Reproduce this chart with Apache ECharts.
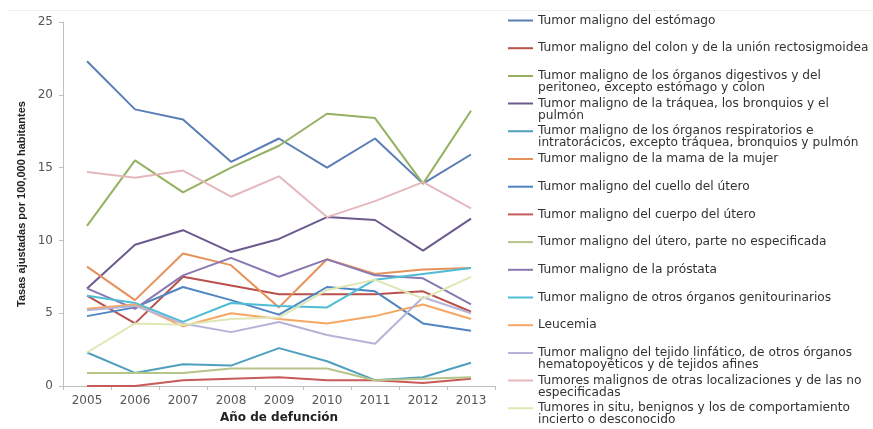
<!DOCTYPE html>
<html><head><meta charset="utf-8">
<script src="https://cdn.jsdelivr.net/npm/echarts@6/dist/echarts.min.js"></script>
<style>html,body{margin:0;padding:0;background:#fff}#c{width:873px;height:429px}</style>
</head><body><div id="c"></div>
<script>
// ---- data ----
const years = ['2005','2006','2007','2008','2009','2010','2011','2012','2013'];
const seriesNames = [
  'Tumor maligno del estómago',
  'Tumor maligno del colon y de la unión rectosigmoidea',
  'Tumor maligno de los órganos digestivos y del\nperitoneo, excepto estómago y colon',
  'Tumor maligno de la tráquea, los bronquios y el\npulmón',
  'Tumor maligno de los órganos respiratorios e\nintratorácicos, excepto tráquea, bronquios y pulmón',
  'Tumor maligno de la mama de la mujer',
  'Tumor maligno del cuello del útero',
  'Tumor maligno del cuerpo del útero',
  'Tumor maligno del útero, parte no especificada',
  'Tumor maligno de la próstata',
  'Tumor maligno de otros órganos genitourinarios',
  'Leucemia',
  'Tumor maligno del tejido linfático, de otros órganos\nhematopoyéticos y de tejidos afines',
  'Tumores malignos de otras localizaciones y de las no\nespecificadas',
  'Tumores in situ, benignos y los de comportamiento\nincierto o desconocido'
];
const estomago      = [22.3, 19.0, 18.3, 15.4, 17.0, 15.0, 17.0, 13.9, 15.9];
const colon         = [6.2, 4.3, 7.5, 6.9, 6.3, 6.3, 6.3, 6.5, 5.1];
const digestivos    = [11.0, 15.5, 13.3, 15.0, 16.5, 18.7, 18.4, 13.9, 18.9];
const traquea       = [6.7, 9.7, 10.7, 9.2, 10.1, 11.6, 11.4, 9.3, 11.5];
const respiratorios = [2.3, 0.9, 1.5, 1.4, 2.6, 1.7, 0.4, 0.6, 1.6];
const mama          = [8.2, 5.9, 9.1, 8.3, 5.4, 8.7, 7.7, 8.0, 8.1];
const cuello        = [4.8, 5.4, 6.8, 5.9, 4.9, 6.8, 6.5, 4.3, 3.8];
const cuerpo        = [0.0, 0.0, 0.4, 0.5, 0.6, 0.4, 0.4, 0.2, 0.5];
const uteroNoEsp    = [0.9, 0.9, 0.9, 1.2, 1.2, 1.2, 0.4, 0.5, 0.6];
const prostata      = [6.7, 5.3, 7.6, 8.8, 7.5, 8.7, 7.6, 7.4, 5.6];
const genitourin    = [6.2, 5.7, 4.4, 5.7, 5.5, 5.4, 7.3, 7.7, 8.1];
const leucemia      = [5.3, 5.6, 4.1, 5.0, 4.6, 4.3, 4.8, 5.6, 4.6];
const linfatico     = [5.2, 5.5, 4.3, 3.7, 4.4, 3.5, 2.9, 6.1, 5.0];
const otras         = [14.7, 14.3, 14.8, 13.0, 14.4, 11.6, 12.7, 14.0, 12.2];
const inSitu        = [2.3, 4.3, 4.2, 4.6, 4.7, 6.6, 7.3, 6.0, 7.5];
const yTicks = [0, 5, 10, 15, 20, 25];

const seriesValues = [estomago, colon, digestivos, traquea, respiratorios, mama, cuello,
  cuerpo, uteroNoEsp, prostata, genitourin, leucemia, linfatico, otras, inSitu];
const colors = ['#5b7db6','#b9504c','#95b061','#6c5a8e','#4f9fbf','#e6915a','#4f86c2',
  '#c85a58','#b5c489','#8a78b2','#4dbcd4','#f6a764','#b6b3d8','#e4b8bc','#dfe8b4'];

// ---- chart ----
const chart = echarts.init(document.getElementById('c'), null, {renderer: 'canvas'});
const font = 'DejaVu Sans';
const twoLineIcon = 'path://M0,0L25,0L25,2L0,2Z M24.9,13.9L25,13.9L25,14L24.9,14Z';
const legends = seriesNames.map((n, i) => {
  const two = n.indexOf('\n') >= 0;
  return {
    orient: 'vertical', left: 508, top: 20.5 + 27.7 * i - 6, padding: 0,
    itemWidth: 25, itemHeight: two ? 14 : 2,
    icon: two ? twoLineIcon : 'rect',
    itemStyle: {borderWidth: 0},
    data: [n],
    textStyle: {fontFamily: font, fontSize: 12.2, lineHeight: 12, color: '#333'}
  };
});

chart.setOption({
  backgroundColor: '#ffffff',
  animation: false,
  color: colors,
  grid: {left: 63, right: 378, top: 22, bottom: 40, containLabel: false},
  legend: legends,
  graphic: [{type: 'line', shape: {x1: 7, y1: 10.5, x2: 873, y2: 10.5}, style: {stroke: '#eeeeee', lineWidth: 1}}],
  xAxis: {
    type: 'category', data: years, boundaryGap: true,
    name: 'Año de defunción', nameLocation: 'middle', nameGap: 26,
    nameTextStyle: {fontFamily: font, fontWeight: 'bold', fontSize: 12, color: '#222'},
    axisLine: {lineStyle: {color: '#bfbfbf', width: 1}},
    axisTick: {show: true, length: 4, alignWithLabel: false, lineStyle: {color: '#bfbfbf'}},
    axisLabel: {fontFamily: font, fontSize: 12, color: '#555', margin: 9},
    splitLine: {show: false}
  },
  yAxis: {
    type: 'value', min: yTicks[0], max: yTicks[yTicks.length - 1], interval: yTicks[1] - yTicks[0],
    name: 'Tasas ajustadas por 100,000 habitantes', nameLocation: 'middle', nameGap: 36,
    nameTextStyle: {fontFamily: 'Liberation Sans', fontWeight: 'bold', fontSize: 11, color: '#222'},
    axisLine: {show: true, lineStyle: {color: '#bfbfbf', width: 1}},
    axisTick: {show: true, length: 4, lineStyle: {color: '#bfbfbf'}},
    axisLabel: {fontFamily: font, fontSize: 12, color: '#555', margin: 10},
    splitLine: {show: false}
  },
  series: seriesNames.map((n, i) => ({
    name: n, type: 'line', data: seriesValues[i], symbol: 'none',
    lineStyle: {width: 2, color: colors[i]}, itemStyle: {color: colors[i]},
    emphasis: {disabled: true}
  }))
});
</script></body></html>
